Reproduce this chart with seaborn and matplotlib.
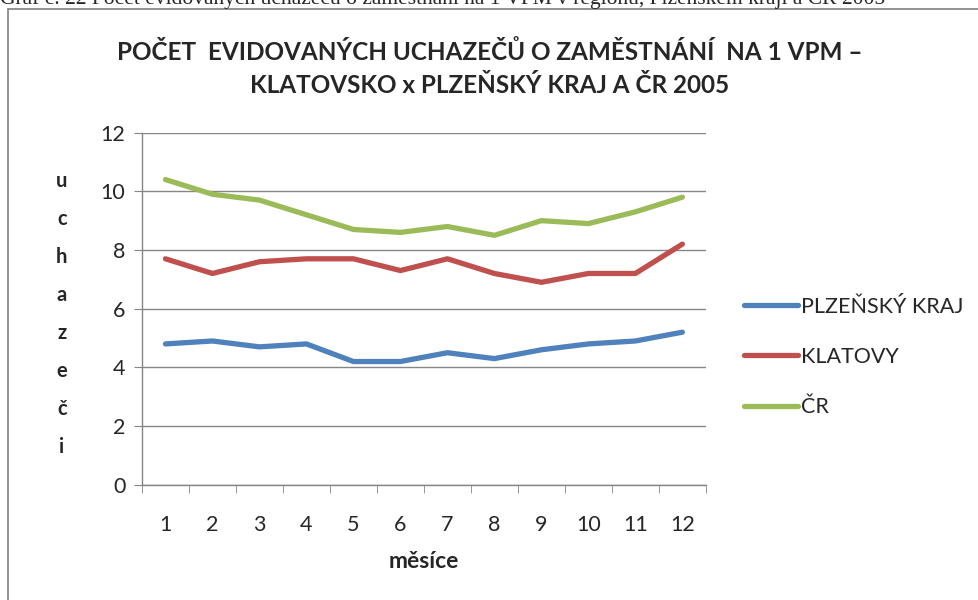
import pandas as pd
import seaborn as sns
import matplotlib.pyplot as plt
from matplotlib.patches import Rectangle

months = list(range(1, 13))
plzensky_kraj = [4.8, 4.9, 4.7, 4.8, 4.2, 4.2, 4.5, 4.3, 4.6, 4.8, 4.9, 5.2]
klatovy = [7.7, 7.2, 7.6, 7.7, 7.7, 7.3, 7.7, 7.2, 6.9, 7.2, 7.2, 8.2]
cr = [10.4, 9.9, 9.7, 9.2, 8.7, 8.6, 8.8, 8.5, 9.0, 8.9, 9.3, 9.8]
series_names = ['PLZEŇSKÝ KRAJ', 'KLATOVY', 'ČR']
colors = ['#4F81BD', '#C0504D', '#9BBB59']

df = pd.DataFrame({
    'měsíc': months * 3,
    'hodnota': plzensky_kraj + klatovy + cr,
    'řada': [s for s in series_names for _ in months],
})

sns.set_style('white')
plt.rcParams['font.family'] = ['Lato', 'DejaVu Sans']

fig = plt.figure(figsize=(9.79, 6.0), dpi=100)
ax = fig.add_axes([0.145, 0.192, 0.576, 0.587])

sns.lineplot(data=df, x='měsíc', y='hodnota', hue='řada', palette=colors,
             linewidth=3.8, ax=ax, legend=False)

grid_c = '#868686'
ax.set_xlim(0.5, 12.5)
ax.set_ylim(0, 12)
ax.set_yticks(range(0, 13, 2))
ax.set_xticks(months)
ax.set_xticks([m - 0.5 for m in months] + [12.5], minor=True)
ax.yaxis.grid(True, color=grid_c, linewidth=1)
ax.xaxis.grid(False)
for side in ['top', 'right']:
    ax.spines[side].set_visible(False)
for side in ['left', 'bottom']:
    ax.spines[side].set_color(grid_c)
    ax.spines[side].set_linewidth(1)
ax.tick_params(axis='x', which='major', length=0, pad=22, labelsize=15.5)
ax.tick_params(axis='x', which='minor', length=6, color=grid_c, direction='out')
ax.tick_params(axis='y', length=6, color=grid_c, direction='out', labelsize=15.5, pad=6)
ax.tick_params(bottom=True, left=True, which='both')

ax.set_xlabel('měsíce', fontsize=16.5, fontweight='bold', labelpad=11)
ax.set_ylabel('\n'.join('uchazeči'), rotation=0, fontsize=14.5, fontweight='bold',
              linespacing=2.13, va='center', labelpad=0)
ax.yaxis.set_label_coords(-0.142, 0.485)

fig.text(0.5, 0.886, 'POČET  EVIDOVANÝCH UCHAZEČŮ O ZAMĚSTNÁNÍ  NA 1 VPM –\nKLATOVSKO x PLZEŇSKÝ KRAJ A ČR 2005',
         ha='center', va='center', fontsize=17.5, fontweight='bold', linespacing=1.5)

handles = [plt.Line2D([], [], color=c, linewidth=3.8, solid_capstyle='round') for c in colors]
fig.legend(handles, series_names, loc='center left', bbox_to_anchor=(0.74, 0.405),
           frameon=False, fontsize=15.5, handlelength=2.5, handletextpad=0.15,
           labelspacing=1.4)

fig.patches.append(Rectangle((8 / 979, -0.1), 1.1, 1 - 9 / 600 + 0.1, transform=fig.transFigure,
                             fill=False, edgecolor='#808080', linewidth=1.2))
fig.text(0.0, 1 - 4 / 600, 'Graf č. 22 Počet evidovaných uchazečů o zaměstnání na 1 VPM v regionu, Plzeňském kraji a ČR 2005',
         ha='left', va='baseline', fontsize=15.5, family='Liberation Serif')

fig.savefig('out.png', dpi=100)
